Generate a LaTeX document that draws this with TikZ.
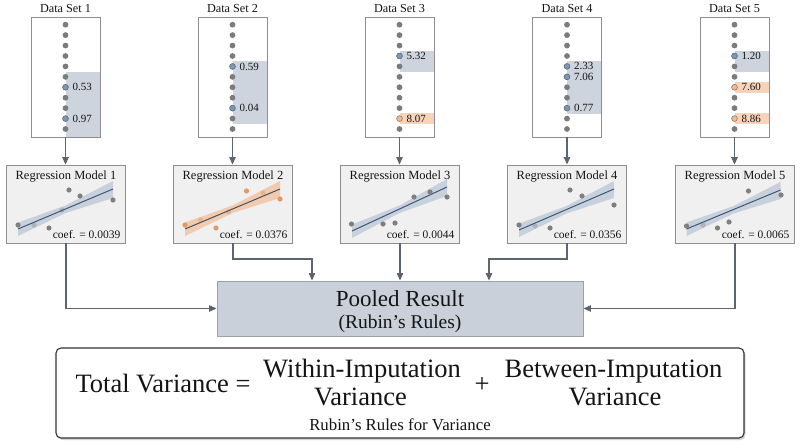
\documentclass[tikz,border=0pt]{standalone}
\usepackage{fontspec}
\setmainfont{Liberation Serif}
\usetikzlibrary{arrows.meta,shadows}
\definecolor{dotc}{HTML}{7B7B7B}
\definecolor{boxc}{HTML}{8E8E8E}
\definecolor{bandb}{HTML}{CDD4DD}
\definecolor{bando}{HTML}{F6D3B9}
\definecolor{bdotf}{HTML}{8195AE}
\definecolor{bdotd}{HTML}{5A6D87}
\definecolor{odotf}{HTML}{ECBB9B}
\definecolor{odotd}{HTML}{A47A5C}
\definecolor{rmfill}{HTML}{F0F0F0}
\definecolor{regline}{HTML}{3B5778}
\definecolor{reglineo}{HTML}{4A505C}
\definecolor{regbandb}{HTML}{BFC9D6}
\definecolor{regbando}{HTML}{F1C29F}
\definecolor{regpt}{HTML}{7F7F7F}
\definecolor{regpto}{HTML}{E09A68}
\definecolor{arrc}{HTML}{5D6670}
\definecolor{poolf}{HTML}{C9D0D9}
\definecolor{poold}{HTML}{9AA1AA}
\definecolor{fboxd}{HTML}{333333}
\definecolor{txt}{HTML}{141414}
\newcommand{\myband}[5]{\fill[#5] ({#1},{#2-6.5}) -- ({(#1+#3)/2},{(#2+#4)/2-3.5}) -- ({#3},{#4-8}) -- ({#3},{#4+9}) -- ({(#1+#3)/2},{(#2+#4)/2+4}) -- ({#1},{#2+7}) -- cycle;}
\begin{document}
\begin{tikzpicture}[x=1pt,y=-1pt,
  dsbox/.style={draw=boxc,line width=0.9pt,fill=white,minimum width=69pt,minimum height=120pt,inner sep=0pt},
  dstitle/.style={font=\fontsize{12.2}{14}\selectfont,text=txt,inner sep=0pt},
  val/.style={font=\fontsize{11}{13}\selectfont,text=txt,anchor=west,inner sep=0pt},
  bdot/.style={fill=bdotf,draw=bdotd,line width=0.6pt},
  odot/.style={fill=odotf,draw=odotd,line width=0.6pt},
  rmbox/.style={draw=boxc,line width=0.9pt,fill=rmfill,minimum width=119pt,minimum height=78pt,inner sep=0pt},
  rmtitle/.style={font=\fontsize{12.5}{14}\selectfont,text=txt,inner sep=0pt},
  coef/.style={font=\fontsize{11.5}{13}\selectfont,text=txt,anchor=east,inner sep=0pt},
  rline/.style={draw=regline,line width=1pt},
  rlineo/.style={draw=reglineo,line width=1pt},
  arr/.style={draw=arrc,line width=1.1pt,-{Triangle[length=7.5pt,width=6.5pt]}},
  big/.style={font=\fontsize{26.5}{30}\selectfont,text=txt,inner sep=0pt},
]
\useasboundingbox (0,0) rectangle (800,447);
\fill[white] (0,0) rectangle (800,447);

% ---------------- Data sets ----------------
% DS1
\node[dsbox] (ds1) at (65.5,77) {};
\node[dstitle] (dt1) at (65.5,8.5) {Data Set 1};
\fill[bandb] (65.5,72) rectangle (99.5,136.5);
\foreach \i in {0,...,10}{\fill[dotc] (65.5,{24.7+10.43*\i}) circle (2.9pt);}
\filldraw[bdot] (65.5,{24.7+10.43*6}) circle (2.9pt);
\filldraw[bdot] (65.5,{24.7+10.43*9}) circle (2.9pt);
\node[val] (v11) at (72.5,{24.7+10.43*6}) {0.53};
\node[val] (v12) at (72.5,{24.7+10.43*9}) {0.97};

% DS2
\node[dsbox] (ds2) at (232.5,77) {};
\node[dstitle] (dt2) at (232.5,8.5) {Data Set 2};
\fill[bandb] (232.5,61) rectangle (266.5,124);
\foreach \i in {0,...,10}{\fill[dotc] (232.5,{24.7+10.43*\i}) circle (2.9pt);}
\filldraw[bdot] (232.5,{24.7+10.43*4}) circle (2.9pt);
\filldraw[bdot] (232.5,{24.7+10.43*8}) circle (2.9pt);
\node[val] (v21) at (239.5,{24.7+10.43*4}) {0.59};
\node[val] (v22) at (239.5,{24.7+10.43*8}) {0.04};

% DS3
\node[dsbox] (ds3) at (399.5,77) {};
\node[dstitle] (dt3) at (399.5,8.5) {Data Set 3};
\fill[bandb] (399.5,51) rectangle (433.5,72);
\fill[bando] (399.5,113) rectangle (433.5,124);
\foreach \i in {0,...,10}{\fill[dotc] (399.5,{24.7+10.43*\i}) circle (2.9pt);}
\filldraw[bdot] (399.5,{24.7+10.43*3}) circle (2.9pt);
\filldraw[odot] (399.5,{24.7+10.43*9}) circle (2.9pt);
\node[val] (v31) at (406.5,{24.7+10.43*3}) {5.32};
\node[val] (v32) at (406.5,{24.7+10.43*9}) {8.07};

% DS4
\node[dsbox] (ds4) at (567,77) {};
\node[dstitle] (dt4) at (567,8.5) {Data Set 4};
\fill[bandb] (567,61) rectangle (601,114);
\foreach \i in {0,...,10}{\fill[dotc] (567,{24.7+10.43*\i}) circle (2.9pt);}
\filldraw[bdot] (567,{24.7+10.43*4}) circle (2.9pt);
\filldraw[bdot] (567,{24.7+10.43*5}) circle (2.9pt);
\filldraw[bdot] (567,{24.7+10.43*8}) circle (2.9pt);
\node[val] (v41) at (574,{24.7+10.43*4}) {2.33};
\node[val] (v42) at (574,{24.7+10.43*5}) {7.06};
\node[val] (v43) at (574,{24.7+10.43*8}) {0.77};

% DS5
\node[dsbox] (ds5) at (734.5,77) {};
\node[dstitle] (dt5) at (734.5,8.5) {Data Set 5};
\fill[bandb] (734.5,51) rectangle (768.5,72);
\fill[bando] (734.5,82) rectangle (768.5,93);
\fill[bando] (734.5,113) rectangle (768.5,124);
\foreach \i in {0,...,10}{\fill[dotc] (734.5,{24.7+10.43*\i}) circle (2.9pt);}
\filldraw[bdot] (734.5,{24.7+10.43*3}) circle (2.9pt);
\filldraw[odot] (734.5,{24.7+10.43*6}) circle (2.9pt);
\filldraw[odot] (734.5,{24.7+10.43*9}) circle (2.9pt);
\node[val] (v51) at (741.5,{24.7+10.43*3}) {1.20};
\node[val] (v52) at (741.5,{24.7+10.43*6}) {7.60};
\node[val] (v53) at (741.5,{24.7+10.43*9}) {8.86};

% ---------------- Regression models ----------------
\node[rmbox] (rm1) at (66,204) {};
\node[rmbox] (rm2) at (233,204) {};
\node[rmbox] (rm3) at (400,204) {};
\node[rmbox] (rm4) at (567,204) {};
\node[rmbox] (rm5) at (735,204) {};

% RM1
\begin{scope}[shift={(6.5,165)}]
\myband{11.5}{64}{106.5}{24}{regbandb,opacity=0.8}
\fill[regpt,opacity=0.35] (27.5,60) circle (2.6pt) (55.5,45) circle (2.6pt);
\draw[rline] (11.5,64) -- (106.5,24);
\fill[regpt] (11.5,60) circle (2.6pt) (42.5,63) circle (2.6pt) (62.5,25) circle (2.6pt) (73.5,31) circle (2.6pt) (106.5,35) circle (2.6pt);
\end{scope}
% RM2
\begin{scope}[shift={(173.5,165)}]
\myband{11.5}{64}{106.5}{24}{regbando,opacity=0.8}
\fill[regpto,opacity=0.45] (27,55) circle (2.6pt) (55,47) circle (2.6pt) (89.5,28) circle (2.6pt);
\draw[rlineo] (11.5,64) -- (106.5,24);
\fill[regpto] (11.5,60) circle (2.6pt) (42.5,63) circle (2.6pt) (73,26) circle (2.6pt) (106.5,34) circle (2.6pt);
\end{scope}
% RM3
\begin{scope}[shift={(340.5,165)}]
\myband{11.5}{66}{106.5}{22}{regbandb,opacity=0.8}
\draw[rline] (11.5,66) -- (106.5,22);
\fill[regpt] (11,59) circle (2.6pt) (42.5,59) circle (2.6pt) (54.5,58) circle (2.6pt) (73.5,32) circle (2.6pt) (89.5,27) circle (2.6pt) (106.5,32) circle (2.6pt);
\end{scope}
% RM4
\begin{scope}[shift={(507.5,165)}]
\myband{11.5}{65}{106.5}{24}{regbandb,opacity=0.8}
\fill[regpt,opacity=0.35] (27.5,61) circle (2.6pt);
\draw[rline] (11.5,65) -- (106.5,24);
\fill[regpt] (11.5,60) circle (2.6pt) (42.5,63) circle (2.6pt) (62.5,25) circle (2.6pt) (74.5,31) circle (2.6pt) (106.5,40) circle (2.6pt);
\end{scope}
% RM5
\begin{scope}[shift={(675.5,165)}]
\myband{11}{64}{105}{25}{regbandb,opacity=0.8}
\fill[regpt,opacity=0.35] (27.5,60) circle (2.6pt);
\draw[rline] (11,64) -- (105,25);
\fill[regpt] (11,61) circle (2.6pt) (42,63) circle (2.6pt) (53.5,57) circle (2.6pt) (73,26) circle (2.6pt) (105.5,30) circle (2.6pt);
\end{scope}

\node[rmtitle] (rt1) at (66,177) {Regression Model 1};
\node[rmtitle] (rt2) at (233,177) {Regression Model 2};
\node[rmtitle] (rt3) at (400,177) {Regression Model 3};
\node[rmtitle] (rt4) at (567,177) {Regression Model 4};
\node[rmtitle] (rt5) at (735,177) {Regression Model 5};

\node[coef] (c1) at (120.5,235) {coef. = 0.0039};
\node[coef] (c2) at (287.5,235) {coef. = 0.0376};
\node[coef] (c3) at (454.5,235) {coef. = 0.0044};
\node[coef] (c4) at (621.5,235) {coef. = 0.0356};
\node[coef] (c5) at (789.5,235) {coef. = 0.0065};

% arrows data set -> model
\foreach \k in {1,...,5}{\draw[arr] (ds\k.south) -- (ds\k.south |- rm\k.north);}

% ---------------- Pooled ----------------
\node[draw=poold,line width=0.9pt,fill=poolf,minimum width=366pt,minimum height=55pt,inner sep=0pt] (pool) at (400,308.5) {};
\node[font=\fontsize{23}{26}\selectfont,text=txt,anchor=base,inner sep=0pt] (pt1) at (400,306.7) {Pooled Result};
\node[font=\fontsize{19.5}{22}\selectfont,text=txt,anchor=base,inner sep=0pt] (pt2) at (400,328.5) {(Rubin’s Rules)};

\coordinate (j2) at (312,259);
\coordinate (j4) at (489,259);
\draw[arr] (rm1.south) |- (pool.west);
\draw[arr] (rm2.south) |- (j2) -- (j2 |- pool.north);
\draw[arr] (rm3.south) -- (rm3.south |- pool.north);
\draw[arr] (rm4.south) |- (j4) -- (j4 |- pool.north);
\draw[arr] (rm5.south) |- (pool.east);

% ---------------- Formula ----------------
\node[draw=fboxd,line width=1.1pt,fill=white,rounded corners=5pt,minimum width=688pt,minimum height=90pt,inner sep=0pt,
  drop shadow={shadow xshift=1.5pt,shadow yshift=-2pt,opacity=0.35}] (fbox) at (400,393) {};
\node[big,anchor=base] (tv) at (163,392.5) {Total Variance =};
\node[big,anchor=base] (wi) at (362,377.5) {Within-Imputation};
\node[big,anchor=base] (wv) at (360.5,405.7) {Variance};
\node[big] (plus) at (482,385) {+};
\node[big,anchor=base] (bi) at (613.5,377.5) {Between-Imputation};
\node[big,anchor=base] (bv) at (615,405.7) {Variance};
\node[font=\fontsize{16.8}{19}\selectfont,text=txt,anchor=base,inner sep=0pt] (rr) at (400,430.7) {Rubin’s Rules for Variance};
\end{tikzpicture}
\end{document}
